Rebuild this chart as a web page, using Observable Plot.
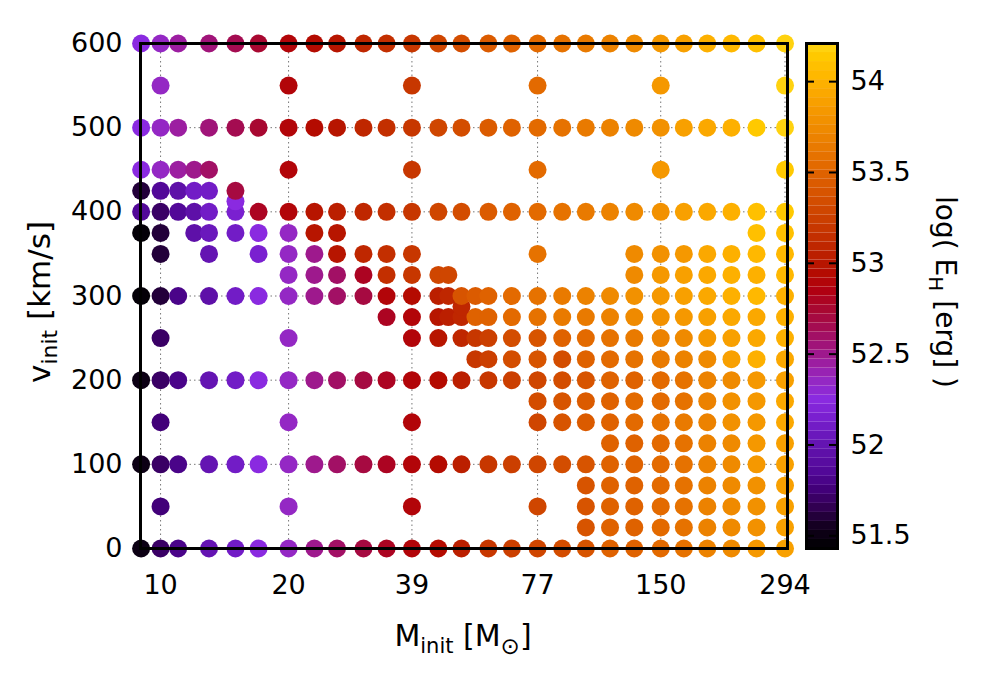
<!DOCTYPE html>
<html><head><meta charset="utf-8">
<script src="https://cdn.jsdelivr.net/npm/d3@7"></script>
<script src="https://cdn.jsdelivr.net/npm/@observablehq/plot@0.6"></script>
<style>
html,body{margin:0;padding:0;background:#fff;}
#wrap{position:relative;width:1000px;height:700px;overflow:hidden;background:#fff;}
#wrap svg{position:absolute;top:0;}
</style></head><body><div id="wrap"></div>
<script>
// ---- data ----
const massTicks = [10, 20, 39, 77, 150, 294];
const velTicks = [0, 100, 200, 300, 400, 500, 600];
const cbTicks = [51.5, 52, 52.5, 53, 53.5, 54];

const S = [9,10,11,13,15,17,20,23,26,30,34,39,45,51,59,67,77,88,100,114,130,150,170,193,220,252,294];

const rowVel = [0, 25, 50, 75, 100, 125, 150, 175, 200, 225, 250, 275, 287.5, 300, 325, 350, 375, 400, 412.5, 425, 450, 500, 550, 600];

const rowMass = [
  S,
  [100,114,130,150,170,193,220,252,294],
  [10,20,39,77,100,114,130,150,170,193,220,252,294],
  [100,114,130,150,170,193,220,252,294],
  S,
  [114,130,150,170,193,220,252,294],
  [10,20,39,77,88,100,114,130,150,170,193,220,252,294],
  [77,88,100,114,130,150,170,193,220,252,294],
  S,
  [55,59,67,77,88,100,114,130,150,170,193,220,252,294],
  [10,20,39,45,51,55,59,67,77,88,100,114,130,150,170,193,220,252,294],
  [34,39,45,47.5,51,55,59,67,77,88,100,114,130,150,170,193,220,252,294],
  [51],
  [9,10,11,13,15,17,20,23,26,30,34,39,45,47.5,51,55,59,67,77,88,100,114,130,150,170,193,220,252,294],
  [20,23,26,30,34,39,45,47.5,130,150,170,193,220,252,294],
  [10,13,17,20,23,26,30,34,39,77,130,150,170,193,220,252,294],
  [9,10,12,13,15,17,20,23,26,252,294],
  [9,10,11,12,13,15,17,20,23,26,30,34,39,45,51,59,67,77,88,100,114,130,150,170,193,220,252,294],
  [15],
  [9,10,11,12,13,15],
  [9,10,11,12,13,20,39,77,150,294],
  S,
  [10,20,39,77,150,294],
  S
];

const rowLogE = [
  [51.5,51.7,51.8,52.0,52.1,52.25,52.35,52.5,52.6,52.7,52.8,52.9,52.95,53.05,53.2,53.25,53.3,53.35,53.4,53.5,53.5,53.55,53.6,53.7,53.75,53.85,53.9],
  [53.4,53.5,53.5,53.55,53.6,53.7,53.75,53.8,53.9],
  [51.75,52.35,52.9,53.3,53.4,53.5,53.5,53.55,53.6,53.7,53.75,53.8,53.9],
  [53.4,53.5,53.5,53.55,53.6,53.7,53.75,53.8,53.9],
  [51.5,51.7,51.8,52.0,52.1,52.25,52.35,52.5,52.6,52.7,52.8,52.9,52.95,53.05,53.2,53.25,53.3,53.35,53.4,53.5,53.5,53.55,53.6,53.7,53.75,53.85,53.9],
  [53.5,53.5,53.55,53.6,53.7,53.75,53.85,53.9],
  [51.75,52.35,52.9,53.3,53.4,53.45,53.5,53.55,53.6,53.65,53.7,53.8,53.85,53.95],
  [53.35,53.4,53.45,53.5,53.55,53.55,53.6,53.7,53.8,53.85,53.95],
  [51.5,51.7,51.8,52.0,52.1,52.25,52.35,52.5,52.6,52.7,52.8,52.9,52.95,53.05,53.2,53.25,53.3,53.35,53.4,53.5,53.5,53.55,53.6,53.7,53.75,53.85,53.9],
  [53.2,53.25,53.35,53.4,53.35,53.5,53.55,53.6,53.65,53.7,53.75,53.9,54.0,53.95],
  [51.7,52.35,52.9,53.0,53.1,53.2,53.25,53.35,53.4,53.5,53.55,53.6,53.65,53.7,53.75,53.85,53.9,53.95,54.0],
  [52.8,52.9,53.0,53.05,53.1,53.5,53.5,53.55,53.6,53.65,53.65,53.7,53.75,53.8,53.85,53.9,53.95,53.95,54.0],
  [53.1],
  [51.45,51.6,51.8,51.95,52.1,52.25,52.35,52.5,52.6,52.7,52.9,52.95,53.05,53.1,53.4,53.45,53.5,53.55,53.6,53.65,53.7,53.75,53.8,53.85,53.9,53.95,54.0,54.05,54.0],
  [52.35,52.5,52.6,52.8,53.15,53.2,53.3,53.3,53.75,53.85,53.9,53.95,54.0,54.0,54.05],
  [51.6,52.0,52.15,52.35,52.5,53.0,53.1,53.15,53.2,53.6,53.75,53.8,53.85,53.95,54.0,54.05,54.05],
  [51.45,51.6,51.95,52.05,52.1,52.25,52.35,53.0,53.0,54.1,54.1],
  [51.85,51.7,51.85,51.95,52.1,52.15,52.8,52.9,53.0,53.05,53.1,53.15,53.2,53.3,53.35,53.45,53.5,53.55,53.6,53.65,53.7,53.75,53.8,53.9,53.95,54.0,54.1,54.15],
  [52.25],
  [51.6,51.85,51.95,52.1,52.1,52.7],
  [52.25,52.35,52.45,52.5,52.6,52.9,53.2,53.55,53.85,54.15],
  [52.25,52.35,52.45,52.55,52.65,52.75,52.9,52.95,53.0,53.1,53.15,53.2,53.3,53.35,53.45,53.5,53.55,53.6,53.65,53.7,53.75,53.8,53.9,53.95,54.0,54.15,54.2],
  [52.35,52.9,53.2,53.55,53.85,54.2],
  [52.25,52.35,52.45,52.55,52.65,52.75,52.9,52.95,53.0,53.1,53.15,53.2,53.3,53.35,53.45,53.5,53.55,53.6,53.65,53.7,53.75,53.85,53.9,54.0,54.05,54.1,54.2]
];

// colour map (palette anchors, log E_H value -> colour)
const paletteValues = [51.43,51.55,51.65,51.75,51.85,51.95,52.05,52.15,52.25,52.35,52.45,52.55,52.65,52.75,52.85,52.95,53.05,53.15,53.25,53.35,53.45,53.55,53.65,53.75,53.85,53.95,54.05,54.15,54.21];
const paletteColors = ["#000000","#140020","#300050","#420078","#520898","#5e10a8","#6a18bc","#7a20d0","#8a2ae0","#9428c4","#9c1ea0","#a01478","#a40c50","#a80830","#b00010","#b40c00","#bc2000","#c43000","#cc4000","#d44e00","#dc5c00","#e46c00","#ea7c00","#f08c00","#f69a00","#fcaa00","#ffba00","#ffcc00","#ffd61a"];

// ---- build ----
const lo = 51.43, hi = 54.21, nBands = 56;
const step = (hi - lo) / nBands;
const colorLin = d3.scaleLinear().domain(paletteValues).range(paletteColors).interpolate(d3.interpolateRgb).clamp(true);
const bandMid = v => {
  const k = Math.min(nBands - 1, Math.max(0, Math.floor((v - lo) / step)));
  return lo + (k + 0.5) * step;
};
const interp = t => colorLin(bandMid(lo + t * (hi - lo)));
const colorScale = {type: "linear", domain: [lo, hi], interpolate: interp};

const points = [];
rowVel.forEach((v, i) => rowMass[i].forEach((m, j) => points.push({mass: m, vel: v, logE: rowLogE[i][j]})));

const font = {fontFamily: "'DejaVu Sans', sans-serif", fontSize: "27px", background: "transparent", overflow: "visible", color: "black"};
const gridStyle = {stroke: "#777", strokeOpacity: 1, strokeWidth: 1, strokeDasharray: "1.5,3"};

const main = Plot.plot({
  width: 1000, height: 700,
  marginLeft: 140, marginRight: 213, marginTop: 43, marginBottom: 152,
  style: font,
  x: {type: "log", domain: [8.97, 298], axis: null},
  y: {domain: [0, 600]},
  color: colorScale,
  marks: [
    Plot.gridX(massTicks, gridStyle),
    Plot.gridY(velTicks, gridStyle),
    Plot.dot(points, {x: "mass", y: "vel", r: 9, fill: "logE"}),
    Plot.frame({stroke: "black", strokeWidth: 3}),
    Plot.text(massTicks, {x: d => d, frameAnchor: "bottom", lineAnchor: "middle", dy: 37, text: d => String(d), fontSize: 27, fill: "black"}),
    Plot.axisY(velTicks, {tickSize: 0, tickPadding: 18, tickFormat: d => String(d), label: null})
  ]
});
main.style.left = "0px";
document.getElementById("wrap").appendChild(main);

const cbBands = d3.range(nBands).map(k => ({y1: lo + k * step, y2: lo + (k + 1) * step, v: lo + (k + 0.5) * step}));
const cb = Plot.plot({
  width: 200, height: 700,
  marginLeft: 6, marginRight: 163, marginTop: 43, marginBottom: 152,
  style: font,
  y: {domain: [lo, hi]},
  color: colorScale,
  marks: [
    Plot.rect(cbBands, {y1: "y1", y2: "y2", fill: "v"}),
    Plot.tickY(cbTicks, {y: d => d, stroke: "black", strokeWidth: 2, insetRight: 23}),
    Plot.tickY(cbTicks, {y: d => d, stroke: "black", strokeWidth: 2, insetLeft: 23}),
    Plot.frame({stroke: "black", strokeWidth: 3}),
    Plot.axisY(cbTicks, {anchor: "right", tickSize: 0, tickPadding: 13, tickFormat: d => String(d), label: null})
  ]
});
cb.style.left = "800px";
document.getElementById("wrap").appendChild(cb);

// ---- axis titles ----
const ff = "'DejaVu Sans', sans-serif";
const svgM = d3.select(main);
const xl = svgM.append("text").attr("x", 463).attr("y", 646).attr("text-anchor", "middle")
  .attr("font-family", ff).attr("font-size", 30).attr("fill", "black");
xl.append("tspan").text("M");
xl.append("tspan").attr("font-size", 21).attr("dy", 7).text("init");
xl.append("tspan").attr("dy", -7).text(" [M");
xl.append("tspan").attr("font-size", 23).attr("dy", 8).text("\u2299");
xl.append("tspan").attr("dy", -8).text("]");

const yl = svgM.append("text").attr("transform", "translate(50,302) rotate(-90)").attr("text-anchor", "middle")
  .attr("font-family", ff).attr("font-size", 31).attr("fill", "black");
yl.append("tspan").text("v");
yl.append("tspan").attr("font-size", 22).attr("dy", 7).text("init");
yl.append("tspan").attr("dy", -7).text(" [km/s]");

const svgC = d3.select(cb);
const cl = svgC.append("text").attr("transform", "translate(136,292) rotate(90)").attr("text-anchor", "middle")
  .attr("font-family", ff).attr("font-size", 28).attr("fill", "black");
cl.append("tspan").text("log( E");
cl.append("tspan").attr("font-size", 20).attr("dy", 7).text("H");
cl.append("tspan").attr("dy", -7).text(" [erg] )");
</script>
</body></html>
